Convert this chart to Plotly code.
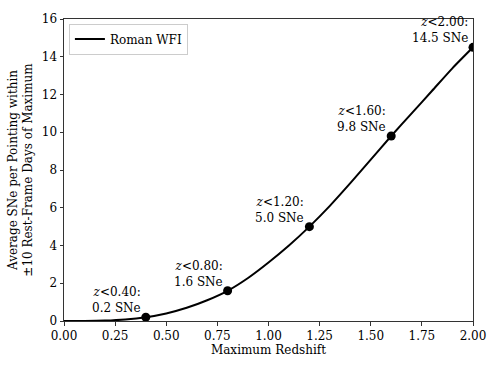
import plotly.graph_objects as go

# curve
curve_z = [0.0, 0.1, 0.2, 0.3, 0.4, 0.5, 0.6, 0.7, 0.8, 0.9, 1.0, 1.1, 1.2,
           1.3, 1.4, 1.5, 1.6, 1.7, 1.8, 1.9, 2.0]
curve_n = [0.0, 0.0, 0.02, 0.08, 0.2, 0.4, 0.7, 1.1, 1.6, 2.28, 3.1, 4.0, 5.0,
           6.1, 7.3, 8.55, 9.8, 11.0, 12.2, 13.4, 14.5]

# labelled points
mark_z = [0.4, 0.8, 1.2, 1.6, 2.0]
mark_n = [0.2, 1.6, 5.0, 9.8, 14.5]

x_ticks = [0.0, 0.25, 0.5, 0.75, 1.0, 1.25, 1.5, 1.75, 2.0]
y_ticks = [0, 2, 4, 6, 8, 10, 12, 14, 16]

FONT = "DejaVu Serif"
FS = 12

fig = go.Figure()
fig.add_trace(go.Scatter(x=curve_z, y=curve_n, mode="lines", name="Roman WFI",
                         line=dict(color="black", width=2, shape="spline", smoothing=0.6)))
fig.add_trace(go.Scatter(x=mark_z, y=mark_n, mode="markers", showlegend=False,
                         marker=dict(color="black", size=9)))

for z, n in zip(mark_z, mark_n):
    fig.add_annotation(x=z, y=n, xref="x", yref="y",
                       text=f"<i>z</i>&lt;{z:.2f}:<br>{n:.1f} SNe",
                       showarrow=False, xanchor="right", yanchor="bottom", align="right",
                       xshift=-3, yshift=0, font=dict(family=FONT, size=FS, color="black"))

axis_common = dict(showline=True, linecolor="#333", linewidth=1, mirror=True,
                   ticks="outside", ticklen=3.5, tickwidth=1, tickcolor="#333",
                   showgrid=False, zeroline=False,
                   tickfont=dict(family=FONT, size=FS, color="black"))

fig.update_xaxes(range=[0, 2], tickvals=x_ticks, ticktext=[f"{v:.2f}" for v in x_ticks],
                 title=dict(text="Maximum Redshift", font=dict(family=FONT, size=FS, color="black"),
                            standoff=3),
                 **axis_common)
fig.update_yaxes(range=[0, 16], tickvals=y_ticks,
                 title=dict(text="Average SNe per Pointing within<br>±10 Rest-Frame Days of Maximum",
                            font=dict(family=FONT, size=FS, color="black"), standoff=6),
                 **axis_common)

fig.update_layout(width=498, height=366, plot_bgcolor="white", paper_bgcolor="white",
                  margin=dict(l=62, r=22, t=13, b=44),
                  font=dict(family=FONT, size=FS, color="black"),
                  legend=dict(x=0.012, y=0.985, xanchor="left", yanchor="top", itemwidth=30,
                              bgcolor="rgba(255,255,255,0.8)", bordercolor="#ccc", borderwidth=1,
                              font=dict(family=FONT, size=FS, color="black")))

fig.write_html("out.html", config={"displayModeBar": False},
               post_script="document.body.style.margin='0';")
